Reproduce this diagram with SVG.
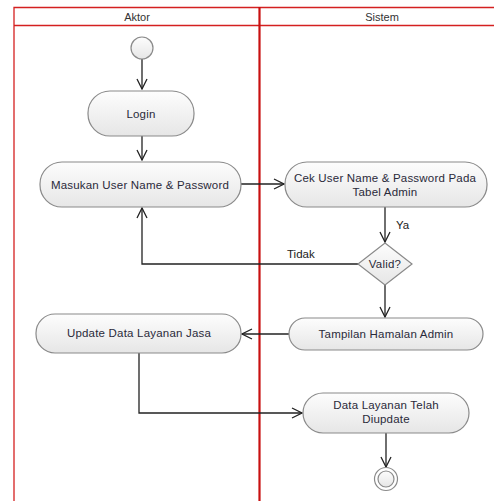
<svg xmlns="http://www.w3.org/2000/svg" width="494" height="501" viewBox="0 0 494 501">
<defs>
<linearGradient id="g" x1="0" y1="0" x2="0" y2="1">
<stop offset="0" stop-color="#fdfdfd"/>
<stop offset="1" stop-color="#e6e6e6"/>
</linearGradient>
<marker id="a" viewBox="0 0 12 12" refX="11" refY="6" markerWidth="12" markerHeight="12" markerUnits="userSpaceOnUse" orient="auto">
<path d="M1,1 L11,6 L1,11" fill="none" stroke="#222" stroke-width="1.3"/>
</marker>
<style>
.n{fill:url(#g);stroke:#8a8a8a;stroke-width:1.2}
.t{font-family:"Liberation Sans",Arial,sans-serif;font-size:11.5px;letter-spacing:0.2px;fill:#2a2a3a;text-anchor:middle}
.h{font-family:"Liberation Sans",Arial,sans-serif;font-size:11px;fill:#333;text-anchor:middle}
.c{fill:none;stroke:#222;stroke-width:1.3}
.l{font-family:"Liberation Sans",Arial,sans-serif;font-size:11.5px;fill:#222}
.lane{fill:none;stroke:#d42020;stroke-width:1.3}
</style>
</defs>
<rect width="494" height="501" fill="#fff"/>
<g id="lanes">
<path class="lane" d="M14,502 V7.5 H495"/>
<path class="lane" d="M14,25.5 H495"/>
<path d="M259.5,7 V502" stroke="#c81010" stroke-width="2.2" fill="none"/>
<text class="h" x="137" y="21">Aktor</text>
<text class="h" x="382" y="21">Sistem</text>
</g>
<g id="connectors">
<path class="c" d="M142,59 V89" marker-end="url(#a)"/>
<path class="c" d="M142,136 V160" marker-end="url(#a)"/>
<path class="c" d="M241,184 H284" marker-end="url(#a)"/>
<path class="c" d="M385,207 V242" marker-end="url(#a)"/>
<text class="l" x="396" y="229">Ya</text>
<path class="c" d="M360,264 H142 V208" marker-end="url(#a)"/>
<text class="l" x="287" y="258">Tidak</text>
<path class="c" d="M385,285 V317" marker-end="url(#a)"/>
<path class="c" d="M289,334 H242" marker-end="url(#a)"/>
<path class="c" d="M139,353 V413 H302" marker-end="url(#a)"/>
<path class="c" d="M386,433 V467" marker-end="url(#a)"/>
</g>
<g id="start">
<circle class="n" cx="142" cy="48" r="11"/>
</g>
<g id="login">
<rect class="n" x="88" y="91" width="106" height="45" rx="22"/>
<text class="t" x="141" y="118">Login</text>
</g>
<g id="masukan">
<rect class="n" x="40" y="162" width="201" height="45" rx="22"/>
<text class="t" x="140" y="189">Masukan User Name &amp; Password</text>
</g>
<g id="cek">
<rect class="n" x="285" y="162" width="202" height="45" rx="22"/>
<text class="t" x="385" y="182">Cek User Name &amp; Password Pada</text>
<text class="t" x="385" y="196">Tabel Admin</text>
</g>
<g id="valid">
<path class="n" d="M385,243 L412,264 L385,285 L358,264 Z"/>
<text class="t" x="385" y="268">Valid?</text>
</g>
<g id="tampilan">
<rect class="n" x="289" y="318" width="194" height="32" rx="16"/>
<text class="t" x="386" y="338">Tampilan Hamalan Admin</text>
</g>
<g id="update">
<rect class="n" x="36" y="314" width="205" height="39" rx="19"/>
<text class="t" x="139" y="337">Update Data Layanan Jasa</text>
</g>
<g id="data">
<rect class="n" x="303" y="393" width="166" height="40" rx="20"/>
<text class="t" x="386" y="409">Data Layanan Telah</text>
<text class="t" x="386" y="423">Diupdate</text>
</g>
<g id="end">
<circle cx="386" cy="479" r="11.5" fill="#fff" stroke="#8a8a8a" stroke-width="1.2"/>
<circle class="n" cx="386" cy="479" r="8"/>
</g>
</svg>
